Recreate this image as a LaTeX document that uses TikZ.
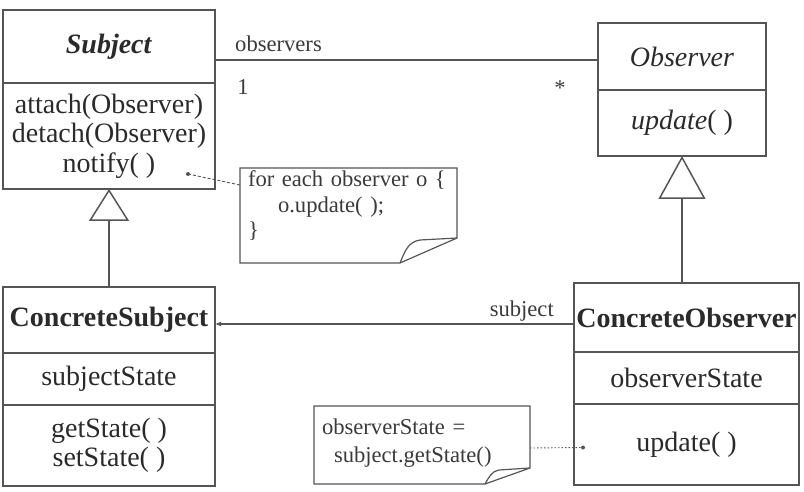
\documentclass[tikz,border=0pt]{standalone}
\usepackage{fontspec}
\setmainfont{Liberation Serif}
\usepackage{tikz}
\usetikzlibrary{arrows.meta, positioning, calc}
\definecolor{umlLine}{HTML}{555555}
\definecolor{umlText}{HTML}{2A2A2A}
\definecolor{noteText}{HTML}{3A3A3A}

\begin{document}
\begin{tikzpicture}[
    x=1pt, y=1pt,
    compart/.style={draw=umlLine, line width=1.5pt, inner sep=0pt, outer sep=0pt,
                    align=center, text=umlText,
                    font=\fontsize{28}{29.5}\selectfont},
    notebox/.style={inner xsep=8pt, inner ysep=3pt, outer sep=0pt, align=left,
                    text=noteText, font=\fontsize{22.6}{25.5}\selectfont},
    noteline/.style={draw=umlLine, line width=1.2pt},
    tag/.style={text=noteText, inner sep=0pt, font=\fontsize{22.6}{25}\selectfont},
    assoc/.style={draw=umlLine, line width=1.5pt},
    inherit/.style 2 args={draw=umlLine, line width=1.5pt,
                    -{Triangle[open, length=#1, width=#2]}},
    navarrow/.style={draw=umlLine, line width=1.2pt, -{Latex[length=6pt, width=5pt]}},
    dashline/.style={draw=umlLine, line width=0.9pt, dash pattern=on 3pt off 2pt},
    dotline/.style={draw=umlLine, line width=0.9pt, dash pattern=on 1.5pt off 2pt},
]
\useasboundingbox (0,0) rectangle (804,-492);

\node[compart, minimum width=212pt, minimum height=73pt, anchor=north west] (subject) at (3,-10)
    {\textbf{\textit{Subject}}};
\node[compart, minimum width=212pt, minimum height=106pt, below=0pt of subject] (subjectops)
    {attach(Observer)\\detach(Observer)\\notify( )};

\node[compart, minimum width=212pt, minimum height=66pt, anchor=north west] (csubject) at (3,-287)
    {\textbf{ConcreteSubject}};
\node[compart, minimum width=212pt, minimum height=52pt, below=0pt of csubject] (csubjectstate)
    {subjectState};
\node[compart, minimum width=212pt, minimum height=81pt, below=0pt of csubjectstate] (csubjectops)
    {getState( )\\setState( )};

\node[compart, minimum width=168pt, minimum height=67pt, anchor=north west] (observer) at (598,-23)
    {\textit{Observer}};
\node[compart, minimum width=168pt, minimum height=66pt, below=0pt of observer] (observerops)
    {\textit{update}( )};

\node[compart, minimum width=225pt, minimum height=69pt, anchor=north west] (cobserver) at (574,-283)
    {\textbf{ConcreteObserver}};
\node[compart, minimum width=225pt, minimum height=52pt, below=0pt of cobserver] (cobserverstate)
    {observerState};
\node[compart, minimum width=225pt, minimum height=81pt, below=0pt of cobserverstate] (cobserverops)
    {update( )};

\node[notebox, text width=201pt, anchor=north west] (loopnote) at (240,-168)
    {for each observer o \{\\\hspace*{30pt}o.update( );\\\}};
\draw[noteline] (loopnote.north west) -- ++(217,0) -- ++(0,-70) -- ++(-57,-25)
    -- ++(-160,0) -- cycle;
\draw[noteline] ($(loopnote.north west)+(160,-95)$) coordinate (folda)
    .. controls ($(folda)+(5,12)$) and ($(folda)+(8,21)$) .. ($(folda)+(20,23)$)
    -- ($(folda)+(57,25)$);

\node[notebox, text width=200pt, inner ysep=13pt, anchor=north west,
      font=\fontsize{22.6}{27.5}\selectfont] (statenote) at (314,-406)
    {observerState =\\\hspace*{12pt}subject.getState()};
\draw[noteline] (statenote.north west) -- ++(216,0) -- ++(0,-62) -- ++(-45,-16)
    -- ++(-171,0) -- cycle;
\draw[noteline] ($(statenote.north west)+(171,-78)$) coordinate (foldb)
    .. controls ($(foldb)+(4,7)$) and ($(foldb)+(7,13)$) .. ($(foldb)+(14,14)$)
    -- ($(foldb)+(45,16)$);

\coordinate (notifydot) at ([xshift=-27pt, yshift=15pt]subjectops.south east);
\coordinate (updatedot) at ([xshift=9pt, yshift=-3pt]cobserverops.west);
\fill[umlLine] (notifydot) circle (2pt);
\fill[umlLine] (updatedot) circle (2pt);
\draw[dashline] (notifydot) -- ([yshift=-17pt]loopnote.north west);
\draw[dotline] ([yshift=-42pt]statenote.north east) -- (updatedot);

\draw[assoc] ([yshift=-3.5pt]observer.west -| subject.east) coordinate (assocl)
    -- ([yshift=-3.5pt]observer.west) coordinate (assocr);
\node[tag, anchor=base west] (rolename) at ([xshift=20pt, yshift=8pt]assocl) {observers};
\node[tag, anchor=north] (multone) at ([xshift=28pt, yshift=-19pt]assocl) {1};
\node[tag, anchor=north] (multmany) at ([xshift=-38pt, yshift=-21pt]assocr) {*};

\draw[navarrow] ([yshift=-6.5pt]cobserver.west) coordinate (navr)
    -- ([yshift=-6.5pt]cobserver.west -| csubject.east);
\node[tag, anchor=base east] (navrole) at ([xshift=-20pt, yshift=8pt]navr) {subject};

\draw[inherit={32pt}{40pt}] (csubject.north) -- (subjectops.south);
\draw[inherit={43pt}{47pt}] (cobserver.north -| observerops.south) -- (observerops.south);
\end{tikzpicture}
\end{document}
